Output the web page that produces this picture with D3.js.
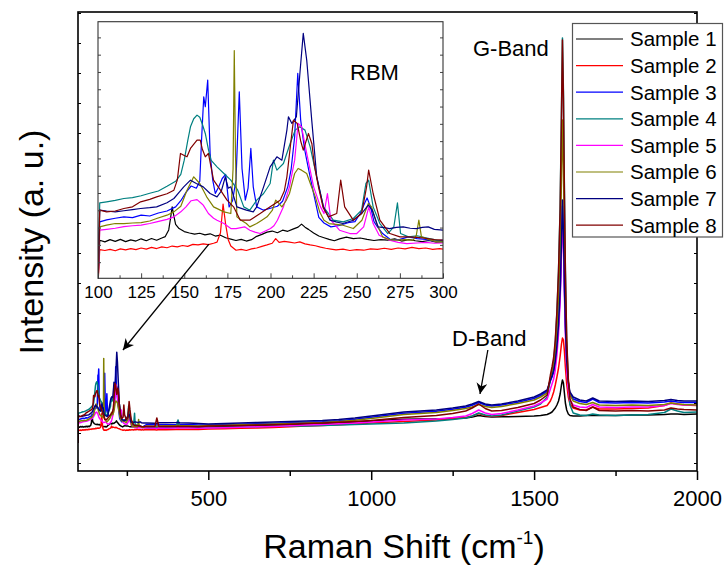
<!DOCTYPE html>
<html lang="en">
<head>
<meta charset="UTF-8">
<title>Raman spectra</title>
<script src="https://cdnjs.cloudflare.com/ajax/libs/d3/7.8.5/d3.min.js"></script>
<style>
  body { margin: 0; background: #fff; }
  text { font-family: Arial, "Liberation Sans", sans-serif; fill: #000; }
</style>
</head>
<body>
<script>
// sample names and line colours (legend order)
var names = ['Sample 1', 'Sample 2', 'Sample 3', 'Sample 4', 'Sample 5', 'Sample 6', 'Sample 7', 'Sample 8'];
var colors = ['#000000', '#ff0000', '#0000ff', '#008080', '#ff00ff', '#808000', '#000080', '#800000'];

// axis ticks
var mainTicks = [500, 1000, 1500, 2000];
var mainMinor = [250, 750, 1250, 1750];
var insetTicks = [100, 125, 150, 175, 200, 225, 250, 275, 300];

// RBM region, 100-300 cm-1 : [shift, intensity]
var rbm1 = [[100,28],[101,44.3],[104,43.7],[107,44.5],[110,43.9],[113,44.6],[116,43.8],[119,44.4],[122,44.0],[125,44.8],[128,44.1],[131,44.9],[134,44.3],[137,45.1],[139,45.6],[141,48],[142,52],[143,56.3],[144,53],[145,50],[147,48.5],[150,47.4],[153,46.9],[156,46.5],[159,46.8],[162,46.2],[165,46.6],[168,45.8],[171,46.1],[174,45.2],[177,44.7],[180,44.2],[183,44.6],[186,44.0],[189,44.5],[192,45.7],[195,46.4],[198,47.2],[201,47.6],[204,47.0],[207,47.9],[210,47.5],[213,48.3],[216,49.0],[218,50.1],[220,49.0],[222,48.2],[225,46.9],[228,45.8],[231,45.2],[234,44.6],[237,44.1],[240,44.8],[244,45.4],[248,44.9],[252,45.1],[256,44.6],[260,44.2],[264,44.5],[268,44.3],[272,44.8],[276,44.0],[280,44.5],[284,44.1],[288,43.8],[292,44.2],[296,43.6],[300,43.7]];
var rbm2 = [[100,28],[101,40.9],[104,40.6],[107,41.0],[110,40.5],[113,41.2],[116,40.8],[119,41.3],[122,40.9],[125,41.5],[128,41.1],[131,41.7],[134,41.3],[137,41.9],[140,41.6],[143,42.2],[146,41.9],[149,42.4],[152,42.1],[155,42.8],[158,42.6],[161,43.0],[164,42.7],[167,43.2],[169,43.6],[171,47],[172.5,57.3],[174,50],[175.5,44.5],[177,42.2],[180,40.7],[183,41.0],[186,40.6],[189,41.2],[192,41.5],[195,42.1],[198,42.6],[201,43.2],[203,44.9],[205,43.5],[208,43.9],[211,43.6],[214,43.3],[217,43.7],[220,43.0],[223,42.6],[226,42.3],[229,41.8],[232,41.4],[235,41.1],[238,40.8],[242,41.1],[246,40.6],[250,40.9],[254,40.7],[258,41.2],[262,41.0],[266,41.4],[270,41.0],[274,41.5],[278,41.2],[282,41.7],[286,41.3],[290,41.5],[294,41.0],[298,41.3],[300,41.1]];
var rbm3 = [[100,28],[101,50.9],[105,51.6],[110,52.2],[115,52.7],[120,52.4],[125,53.3],[130,53.0],[135,54.1],[140,54.8],[145,56.3],[148,58.5],[151,61.5],[154,63.8],[157,63.0],[159,65.5],[160,80],[161.3,95.9],[162.2,92.3],[163.6,101.9],[165,75.5],[166.5,66],[168,61.1],[170,63.5],[172,66.5],[174,68],[176,56.3],[178,58.5],[180,66],[181.9,97.7],[183.5,70],[185.4,58.7],[187,63],[188.6,77.3],[190,63.5],[192,56.3],[196,55.1],[200,55.8],[204,56.5],[207,58.3],[210,63.5],[212,70],[214,81.5],[215.8,104.3],[217.5,87.5],[219.5,78],[221,73.1],[223,67],[225,61.1],[228,52.5],[231,50.5],[235,49.1],[240,49.6],[245,50.6],[249,51.0],[252,53.9],[254.5,57.5],[256,59.5],[258,56.3],[260,51],[262,49.1],[265,46.7],[270,44.3],[275,44.6],[280,45.5],[285,44.9],[290,44.6],[295,44.0],[300,44.3]];
var rbm4 = [[100,28],[101,57.7],[105,58.1],[110,58.6],[115,59.3],[120,59.6],[125,60.3],[130,61.2],[135,62.0],[140,63.7],[145,65.5],[148,68],[150,73.1],[152,80],[153.6,85.1],[155.5,88],[157.4,89.3],[159,88.5],[160.5,86],[162.2,82.7],[164,77],[165.5,73.1],[169,70.7],[173,68.3],[177,65.9],[181,62.3],[184.5,56.3],[188,55.1],[192,58.7],[196,61.1],[199.8,64.7],[201.7,73.1],[203.7,69.5],[207.5,71.9],[211.4,79.1],[214.3,83.9],[217,85.1],[220,83.9],[223,77.9],[226.8,67.1],[230.7,56.3],[236.4,51.5],[242.2,50.9],[248,52.1],[252.8,55.1],[255.3,64.7],[256.9,65.9],[259.5,56.3],[263.4,50.3],[268,46.7],[271.5,49.1],[273.6,57.7],[275.4,46.7],[280,45.5],[285,45.9],[290,45.2],[295,44.5],[300,43.7]];
var rbm5 = [[100,28],[101,47.9],[105,48.2],[110,48.6],[115,49.2],[120,49.5],[125,49.7],[130,50.3],[134,50.9],[140,51.8],[144,52.7],[148,54.5],[151,56.3],[154,58.5],[157.4,58.9],[160,57.5],[161,56.9],[164,53.9],[167,52.2],[169,51.5],[173,50.3],[177,48.5],[180,48.5],[185,49.1],[188,47.9],[191,47.2],[194,46.7],[197,47.6],[200,48.5],[202,49.5],[204,51.5],[207.5,56.3],[211,63.5],[214,73.1],[216,86.3],[218,85.1],[221,75.5],[225,63.5],[229,56.3],[231,53.9],[233,61.1],[235,51.5],[240,47.9],[246,46.7],[250,46.7],[254,49.1],[257,56.3],[259.5,50.3],[263,46.1],[269,44.3],[274,43.5],[279,43.1],[285,43.3],[290,43.5],[295,43.2],[300,43.3]];
var rbm6 = [[100,28],[101,49.1],[105,49.7],[110,50.3],[115,50.3],[120,50.5],[125,50.6],[130,51.2],[134,52.1],[140,53.3],[144,54.5],[148,56.5],[151.6,62.3],[155.5,67.1],[159,64.7],[163,59.9],[167,56.3],[170,55.4],[173,54.5],[177,53.9],[178.3,70],[179,112.5],[179.7,75],[180.5,52.7],[183,51.5],[186,50.3],[188,49.1],[192,50.3],[195,51.5],[198,52.7],[201,55],[203,58.7],[205,57.5],[206.6,56.3],[209,58.5],[211,61.1],[214,68.3],[216,70.1],[218,69.5],[221,68.3],[223.5,64],[226,59.9],[228.5,54.5],[231,51.5],[234,50.3],[238,50.0],[242,49.7],[248,48.5],[253,51.5],[256.7,57.5],[258.6,56.3],[261.5,50.3],[265,45.5],[269,44.5],[273,44.3],[278,44.5],[282.7,44.3],[284.5,46],[286,51.5],[287.5,45.5],[292,44.5],[296,43.8],[300,43.7]];
var rbm7 = [[100,28],[101,55.1],[105,54.8],[110,54.5],[115,54.9],[120,55.3],[124.7,55.7],[130,56.0],[134,56.3],[140,57.8],[144,59.3],[147,61.5],[149.7,63.5],[153.6,65.9],[157,64.7],[161,63.5],[165,61.1],[169,59.9],[171.5,62],[173.8,67.1],[175.5,63],[177,63.5],[180.5,56.3],[186,55.1],[190,54.5],[192,56.3],[196,63.5],[199.8,70.7],[203.7,74.3],[206.6,73.1],[209.5,83.9],[210.4,88.7],[212.4,86.3],[215,88.7],[217.2,105.5],[219,118.7],[221,109.1],[223.9,87.5],[226.8,67.1],[230.7,56.3],[234.5,51.5],[238,50.9],[242,50.3],[248,51.5],[252.8,53.9],[256.7,56.9],[259,55.1],[262.4,49.1],[266,48.8],[269,48.5],[273,48.9],[276.9,49.1],[281,48.6],[284.6,48.5],[288,48.9],[291.4,49.1],[295,48.2],[300,47.9]];
var rbm8 = [[100,28],[101,55.1],[105,54.5],[110,54.8],[115,55.7],[120,56.3],[124.7,58.1],[130,59.0],[134,59.9],[140,61.0],[144,62.3],[146,66],[147.8,75.5],[150,74.8],[151.6,74.3],[153.6,77.3],[157.4,80.3],[159.3,80.3],[160.5,77],[162.2,74.3],[164,75.5],[167,65.9],[171,62.3],[174.8,58.7],[178.6,56.3],[182.5,51.5],[188,51.5],[194,53.9],[199.8,56.3],[205.6,58.7],[208,62],[209.5,67.1],[211.5,78],[213.3,87.5],[215.5,86.3],[217.5,80],[219,76.7],[222,82.7],[224,79],[225.5,71],[227.8,63.5],[230.5,56],[233.6,52.7],[238.4,53.9],[240.7,65.9],[243,56.3],[248,51.5],[252.8,53.9],[255.7,63.5],[256.9,69.5],[259.5,61.1],[263.4,51.5],[269.2,46.7],[275,45.5],[280,45.5],[285,45.3],[290,45.0],[295,44.5],[300,44.3]];

// 310-2000 cm-1, shared shift grid
var mainX = [310,336,342,348,370,401,407,413,440,470,500,550,600,650,700,750,800,850,900,950,1000,1050,1100,1150,1200,1250,1290,1310,1330,1350,1370,1400,1450,1500,1520,1540,1550,1555,1560,1565,1570,1575,1580,1584,1587,1590,1593,1596,1600,1605,1610,1620,1640,1660,1680,1700,1750,1800,1850,1900,1920,1940,1960,2000];
var main1 = [43.5,43.2,43,43.4,43.6,43.8,44,43.7,44.2,44.5,44,44.5,45,45.5,46,46.5,47,47.5,48.2,49,50,51,51.8,52,52,52.5,53,54,55.5,54.5,54,54.2,54.5,55,55.5,56.5,58,59,61,63,66,70,77,86,91,88,78,68,61,57,55.5,55,55,55.5,55.5,55.5,55.5,56,56,56.5,57,57,56.5,57];
var main2 = [41.5,41.2,41,41.4,41.3,41.6,41.8,41.5,41.6,41.5,42,42.3,42.7,43,43.4,44.2,45,45.5,46.3,47,48,48.7,49.5,50.2,51,52.3,53.5,55,57.5,55.5,54.5,55.5,58.5,61.5,63.5,65.5,70,74,79,86,94,103,115,127,133,131,120,104,87,74,67,63,61,61,64,62,62,62.5,63,65.5,68,67,66,65.5];
var main3 = [46.5,46.2,46,46.3,46.3,46.6,46.8,46.5,46.5,46,46,46.3,46.8,47.3,47.8,48.2,48.7,49.3,50.3,51.8,53.8,55.8,57.8,58.8,59.8,61.8,63.8,65.8,68.5,66,65,66,68.8,72.5,75.5,79.5,90,94,99,108,123,144,176,224,265,234,184,144,109,88,77,72,69.5,68.5,72,68.5,68,68.5,68,69,70,69,68.5,68.5];
var main4 = [43.5,43.2,43,43.3,43.3,43.4,51,43.5,43.5,43.5,43.5,43.8,44,44.3,44.7,45,45,45.5,46,46.5,47,47.5,48,49,50,51.5,53,55,58,56,55,56,60,64,67,74,92,100,110,128,158,200,265,360,433,380,280,200,130,88,66,58,56,55.5,57,56,55.5,56,56.5,58.5,62,60,58.5,59];
var main5 = [43,42.7,42.5,42.9,42.8,43.1,43.2,43,43,42.7,43,43.3,43.8,44.2,44.6,45.2,46,46.5,47.2,48,49,50,51,51.5,52,53.5,55,57.5,61,58,56.5,57.5,61,65,68,72,82,87,92,101,116,137,170,217,258,227,177,137,102,81,71,66,64,63.5,66.5,64,63.5,64,64,65.5,67.5,66.5,66,66];
var main6 = [45,44.7,44.5,44.9,45.3,45.4,45.5,45.4,45.3,45,45.5,45.8,46.2,46.6,47,47.4,48,48.5,49.5,50.8,52.5,54.5,56.5,57.5,58.5,60.5,62.5,64,66.5,64.5,63.5,64.5,67.5,71,74,78,93,99,106.5,120,142,173,221,291,351,306,232,173,121,90,76,70,67.5,66.5,68.5,66,65.5,66,65.5,66.5,68,67,66.5,66];
var main7 = [48,47.7,47.5,48.2,48.3,48.4,48.5,48.2,48,47.5,47,47.5,48,48.5,49,49.5,50,50.5,51.5,53,55,57,59,60,61,63,65,67,69.5,67,66,67,70,74,77,81,91,95,100.5,110,125,147,180,228.5,271,239,187.5,146.6,110.7,89,79,74,71,70,73,70,69.5,70,69.5,70.5,71.5,70.5,70,70];
var main8 = [44.5,44.4,53,44.6,44.5,44.6,44.8,44.6,44.5,44.3,45,45.2,45.5,46,46.3,46.8,47.5,48,48.7,49.5,50.5,52,53.5,54.5,55.5,57.5,60,63,67,62.5,60,60.5,63.5,67.5,71,76,96,104,113.5,131,159.5,200,262,354,431,373,277,200,132.5,92,72,64,61.5,60.5,64,60.5,60,60.5,60,61,63,62,61.5,61];

var rbm = [rbm1, rbm2, rbm3, rbm4, rbm5, rbm6, rbm7, rbm8];
var mains = [main1, main2, main3, main4, main5, main6, main7, main8];
var spectra = rbm.map(function(r, i) {
  return r.concat(mainX.map(function(v, j) { return [v, mains[i][j]]; }));
});

var width = 726, height = 571;
var svg = d3.select('body').append('svg').attr('width', width).attr('height', height);

// main plot scales
var x = d3.scaleLinear().domain([100, 2000]).range([78, 697]);
var y = d3.scaleLinear().domain([0, 459]).range([471, 12]);
// inset scales
var ix = d3.scaleLinear().domain([100, 300]).range([98, 443]);
var iy = d3.scaleLinear().domain([30.6, 122.9]).range([278.3, 21.7]);

var defs = svg.append('defs');
defs.append('clipPath').attr('id', 'clipMain').append('rect')
  .attr('x', 78).attr('y', 12).attr('width', 619).attr('height', 459);
defs.append('clipPath').attr('id', 'clipInset').append('rect')
  .attr('x', 98).attr('y', 21.7).attr('width', 345).attr('height', 256.6);
defs.append('marker').attr('id', 'arrow')
  .attr('viewBox', '0 0 10 10').attr('refX', 10).attr('refY', 5)
  .attr('markerWidth', 11).attr('markerHeight', 11).attr('markerUnits', 'userSpaceOnUse')
  .attr('orient', 'auto')
  .append('path').attr('d', 'M0,0 L10,5 L0,10 L3,5 Z').attr('fill', '#000');

// main curves
var line = d3.line().x(function(d) { return x(d[0]); }).y(function(d) { return y(d[1]); });
svg.append('g').attr('clip-path', 'url(#clipMain)')
  .selectAll('path').data(spectra).enter().append('path')
  .attr('d', line)
  .attr('fill', 'none')
  .attr('stroke', function(d, i) { return colors[i]; })
  .attr('stroke-width', 1.5)
  .attr('stroke-linejoin', 'round');

// bottom axis
var xAxis = svg.append('g').attr('transform', 'translate(0,471)')
  .call(d3.axisBottom(x).tickValues(mainTicks).tickSize(9).tickPadding(10).tickFormat(d3.format('d')));
svg.append('g').attr('transform', 'translate(0,471)')
  .call(d3.axisBottom(x).tickValues(mainMinor).tickSize(5).tickFormat(''));
svg.selectAll('.domain').remove();
xAxis.selectAll('text').attr('font-size', 22).attr('font-family', 'Arial, "Liberation Sans", sans-serif');
svg.selectAll('.tick line').attr('stroke', '#000').attr('stroke-width', 1.5);

// small inward ticks on left and right
var yTicks = d3.range(8, 459, 30);
svg.append('g').attr('transform', 'translate(78,0)')
  .call(d3.axisRight(y).tickValues(yTicks).tickSize(3).tickFormat(''))
  .call(function(g) { g.select('.domain').remove(); });
svg.append('g').attr('transform', 'translate(697,0)')
  .call(d3.axisLeft(y).tickValues(yTicks).tickSize(3).tickFormat(''))
  .call(function(g) { g.select('.domain').remove(); });

// frame
svg.append('rect').attr('x', 78).attr('y', 12).attr('width', 619).attr('height', 459)
  .attr('fill', 'none').attr('stroke', '#000').attr('stroke-width', 1.6);

// axis titles
svg.append('text').attr('x', 404).attr('y', 558).attr('text-anchor', 'middle')
  .attr('font-size', 34)
  .call(function(t) {
    t.append('tspan').text('Raman Shift (cm');
    t.append('tspan').attr('font-size', 19).attr('dy', -14).text('-1');
    t.append('tspan').attr('dy', 14).text(')');
  });
svg.append('text').attr('transform', 'translate(43,242) rotate(-90)')
  .attr('text-anchor', 'middle').attr('font-size', 34)
  .text('Intensity (a. u.)');

// annotations
svg.append('text').attr('x', 473).attr('y', 56).attr('font-size', 22).text('G-Band');
svg.append('text').attr('x', 452).attr('y', 346).attr('font-size', 22).text('D-Band');
svg.append('line')
  .attr('x1', x(1358)).attr('y1', y(121)).attr('x2', x(1334)).attr('y2', y(77))
  .attr('stroke', '#000').attr('stroke-width', 1.3).attr('marker-end', 'url(#arrow)');

// inset
var inset = svg.append('g');
inset.append('rect').attr('x', 98).attr('y', 21.7).attr('width', 345).attr('height', 256.6)
  .attr('fill', '#fff');
var iline = d3.line().x(function(d) { return ix(d[0]); }).y(function(d) { return iy(d[1]); });
inset.append('g').attr('clip-path', 'url(#clipInset)')
  .selectAll('path').data(rbm).enter().append('path')
  .attr('d', iline)
  .attr('fill', 'none')
  .attr('stroke', function(d, i) { return colors[i]; })
  .attr('stroke-width', 1.2)
  .attr('stroke-linejoin', 'round');

var insetMinor = d3.range(112.5, 300, 25);
var ixAxis = inset.append('g').attr('transform', 'translate(0,278.3)')
  .call(d3.axisBottom(ix).tickValues(insetTicks).tickSize(-5).tickPadding(8).tickFormat(d3.format('d')));
inset.append('g').attr('transform', 'translate(0,278.3)')
  .call(d3.axisBottom(ix).tickValues(insetMinor).tickSize(-3).tickFormat(''));
var insetY = d3.range(36.4, 122, 6.22);
inset.append('g').attr('transform', 'translate(98,0)')
  .call(d3.axisRight(iy).tickValues(insetY).tickSize(3).tickFormat(''));
inset.append('g').attr('transform', 'translate(443,0)')
  .call(d3.axisLeft(iy).tickValues(insetY).tickSize(3).tickFormat(''));
inset.selectAll('.domain').remove();
inset.selectAll('.tick line').attr('stroke', '#444').attr('stroke-width', 1);
ixAxis.selectAll('text').attr('font-size', 17).attr('font-family', 'Arial, "Liberation Sans", sans-serif');
inset.append('rect').attr('x', 98).attr('y', 21.7).attr('width', 345).attr('height', 256.6)
  .attr('fill', 'none').attr('stroke', '#333').attr('stroke-width', 1.1);
inset.append('text').attr('x', 350).attr('y', 80).attr('font-size', 22).text('RBM');

// arrow from inset to RBM peaks
svg.append('line')
  .attr('x1', ix(164.3)).attr('y1', iy(42.9)).attr('x2', x(238)).attr('y2', y(121))
  .attr('stroke', '#000').attr('stroke-width', 1.3).attr('marker-end', 'url(#arrow)');

// legend
var legend = svg.append('g');
legend.append('rect').attr('x', 572.5).attr('y', 23.5).attr('width', 150).attr('height', 213.5)
  .attr('fill', '#fff').attr('stroke', '#555').attr('stroke-width', 1.2);
var rows = legend.selectAll('g.row').data(names).enter().append('g')
  .attr('transform', function(d, i) { return 'translate(0,' + (39 + i * 26.6) + ')'; });
rows.append('line').attr('x1', 576).attr('x2', 623).attr('y1', 0).attr('y2', 0)
  .attr('stroke', function(d, i) { return colors[i]; }).attr('stroke-width', 1.2);
rows.append('text').attr('x', 630).attr('dy', '0.36em').attr('font-size', 20.5)
  .text(function(d) { return d; });
</script>
</body>
</html>
